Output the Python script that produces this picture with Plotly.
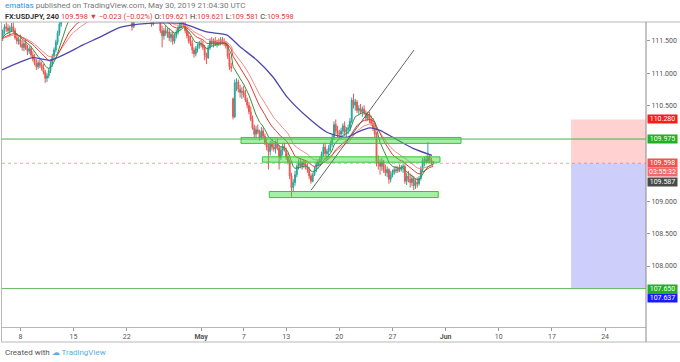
import plotly.graph_objects as go

# ---------------- data (4h bars, 6 per trading day) ----------------
trade_days = ["Apr 4", "Apr 5", "Apr 8", "Apr 9", "Apr 10", "Apr 11", "Apr 12", "Apr 15", "Apr 16",
              "Apr 17", "Apr 18", "Apr 19", "Apr 22", "Apr 23", "Apr 24", "Apr 25", "Apr 26", "Apr 29",
              "Apr 30", "May 1", "May 2", "May 3", "May 6", "May 7", "May 8", "May 9", "May 10",
              "May 13", "May 14", "May 15", "May 16", "May 17", "May 20", "May 21", "May 22",
              "May 23", "May 24", "May 27", "May 28", "May 29", "May 30"]

opens = [
    111.50, 111.52, 111.58, 111.66, 111.72, 111.70,
    111.66, 111.70, 111.72, 111.66, 111.55, 111.50,
    111.52, 111.45, 111.40, 111.46, 111.38, 111.34,
    111.38, 111.28, 111.22, 111.15, 111.10, 111.16,
    111.12, 111.08, 111.02, 110.92, 110.96, 111.04,
    111.14, 111.26, 111.36, 111.48, 111.62, 111.76,
    111.88, 111.94, 112.00, 111.98, 112.06, 112.00,
    112.02, 111.96, 112.00, 111.98, 111.92, 111.96,
    112.00, 112.04, 112.06, 112.00, 112.05, 112.08,
    112.04, 112.02, 111.98, 111.95, 112.02, 112.10,
    112.00, 111.92, 111.88, 111.95, 111.90, 111.94,
    111.96, 111.93, 111.94, 111.92, 111.93, 111.92,
    111.93, 111.90, 111.92, 111.86, 111.72, 111.86,
    111.92, 111.95, 112.00, 111.96, 111.94, 112.02,
    112.08, 112.14, 111.96, 111.76, 111.86, 111.92,
    111.88, 111.82, 111.66, 111.58, 111.66, 111.62,
    111.64, 111.55, 111.60, 111.50, 111.58, 111.64,
    111.70, 111.76, 111.80, 111.76, 111.66, 111.58,
    111.50, 111.46, 111.36, 111.30, 111.38, 111.42,
    111.46, 111.44, 111.40, 111.28, 111.24, 111.40,
    111.50, 111.46, 111.50, 111.45, 111.48, 111.46,
    111.52, 111.48, 111.46, 111.42, 111.26, 111.10,
    110.60, 110.32, 110.85, 110.86, 110.75, 110.70,
    110.72, 110.66, 110.58, 110.50, 110.40, 110.28,
    110.15, 110.05, 110.12, 110.08, 110.00, 110.10,
    110.02, 109.92, 109.85, 109.78, 109.90, 109.85,
    109.82, 109.90, 109.84, 109.70, 109.80, 109.86,
    109.80, 109.70, 109.62, 109.40, 109.22, 109.30,
    109.42, 109.55, 109.60, 109.56, 109.60, 109.58,
    109.55, 109.50, 109.40, 109.32, 109.42, 109.50,
    109.58, 109.62, 109.66, 109.74, 109.85, 109.75,
    109.78, 109.84, 109.90, 110.00, 110.20, 110.10,
    110.06, 110.05, 110.10, 110.18, 110.08, 110.12,
    110.15, 110.25, 110.58, 110.50, 110.55, 110.42,
    110.45, 110.40, 110.44, 110.38, 110.30, 110.36,
    110.28, 110.22, 110.15, 110.05, 109.62, 109.60,
    109.55, 109.62, 109.50, 109.45, 109.50, 109.35,
    109.42, 109.46, 109.50, 109.48, 109.52, 109.50,
    109.54, 109.55, 109.32, 109.40, 109.35, 109.30,
    109.36, 109.25, 109.30, 109.28, 109.36, 109.50,
    109.64, 109.66, 109.62, 109.70, 109.65, 109.621,
]
highs = [
    111.58, 111.62, 111.68, 111.76, 111.80, 111.76,
    111.74, 111.78, 111.79, 111.70, 111.62, 111.58,
    111.60, 111.52, 111.50, 111.52, 111.44, 111.42,
    111.42, 111.34, 111.30, 111.22, 111.20, 111.22,
    111.18, 111.14, 111.05, 111.00, 111.08, 111.18,
    111.30, 111.40, 111.52, 111.66, 111.80, 111.92,
    111.98, 112.04, 112.08, 112.10, 112.10, 112.06,
    112.08, 112.04, 112.06, 112.02, 112.00, 112.04,
    112.08, 112.12, 112.10, 112.08, 112.14, 112.12,
    112.10, 112.08, 112.04, 112.06, 112.17, 112.14,
    112.04, 111.98, 111.98, 112.00, 111.98, 112.00,
    111.99, 111.97, 111.98, 111.96, 111.96, 111.95,
    111.98, 111.96, 111.95, 111.90, 111.90, 111.96,
    112.00, 112.04, 112.06, 112.02, 112.06, 112.12,
    112.20, 112.18, 112.00, 111.90, 111.96, 111.98,
    111.94, 111.86, 111.74, 111.70, 111.74, 111.70,
    111.70, 111.64, 111.66, 111.62, 111.68, 111.74,
    111.80, 111.84, 111.86, 111.80, 111.72, 111.64,
    111.58, 111.52, 111.40, 111.42, 111.46, 111.50,
    111.52, 111.50, 111.44, 111.32, 111.44, 111.54,
    111.56, 111.54, 111.56, 111.52, 111.54, 111.56,
    111.56, 111.54, 111.50, 111.46, 111.32, 111.16,
    110.62, 110.90, 110.92, 110.90, 110.82, 110.78,
    110.80, 110.74, 110.62, 110.55, 110.48, 110.34,
    110.20, 110.18, 110.20, 110.12, 110.16, 110.15,
    110.06, 109.98, 109.90, 109.95, 109.98, 109.92,
    109.95, 109.98, 109.88, 109.85, 109.90, 109.92,
    109.84, 109.76, 109.66, 109.45, 109.35, 109.48,
    109.58, 109.66, 109.68, 109.64, 109.66, 109.64,
    109.60, 109.54, 109.44, 109.45, 109.55, 109.62,
    109.66, 109.70, 109.78, 109.90, 109.92, 109.82,
    109.88, 109.95, 110.05, 110.25, 110.28, 110.18,
    110.12, 110.15, 110.22, 110.25, 110.16, 110.20,
    110.30, 110.62, 110.68, 110.60, 110.58, 110.50,
    110.52, 110.48, 110.50, 110.42, 110.40, 110.40,
    110.34, 110.30, 110.22, 110.08, 109.72, 109.66,
    109.68, 109.65, 109.58, 109.55, 109.52, 109.48,
    109.50, 109.55, 109.56, 109.55, 109.58, 109.57,
    109.60, 109.58, 109.45, 109.48, 109.44, 109.42,
    109.40, 109.35, 109.38, 109.40, 109.55, 109.68,
    109.70, 109.72, 109.93, 109.74, 109.68, 109.621,
]
lows = [
    111.45, 111.48, 111.50, 111.60, 111.64, 111.62,
    111.58, 111.64, 111.62, 111.52, 111.45, 111.44,
    111.40, 111.35, 111.34, 111.36, 111.28, 111.30,
    111.25, 111.18, 111.12, 111.05, 111.06, 111.08,
    111.04, 110.98, 110.85, 110.86, 110.92, 111.00,
    111.10, 111.22, 111.32, 111.44, 111.58, 111.72,
    111.84, 111.90, 111.94, 111.95, 111.96, 111.95,
    111.92, 111.90, 111.94, 111.88, 111.86, 111.92,
    111.94, 111.98, 111.96, 111.95, 112.00, 112.00,
    111.98, 111.94, 111.90, 111.92, 112.00, 111.98,
    111.88, 111.84, 111.84, 111.86, 111.86, 111.90,
    111.90, 111.89, 111.90, 111.89, 111.90, 111.90,
    111.86, 111.84, 111.82, 111.66, 111.70, 111.82,
    111.86, 111.90, 111.92, 111.88, 111.90, 111.98,
    112.02, 111.92, 111.72, 111.74, 111.82, 111.84,
    111.78, 111.62, 111.40, 111.52, 111.58, 111.55,
    111.50, 111.48, 111.44, 111.46, 111.54, 111.60,
    111.66, 111.70, 111.72, 111.62, 111.54, 111.46,
    111.42, 111.30, 111.24, 111.26, 111.32, 111.38,
    111.40, 111.36, 111.20, 111.14, 111.22, 111.36,
    111.42, 111.40, 111.42, 111.40, 111.42, 111.43,
    111.44, 111.42, 111.38, 111.22, 111.05, 111.02,
    110.28, 110.30, 110.72, 110.70, 110.62, 110.60,
    110.62, 110.55, 110.45, 110.36, 110.25, 110.12,
    110.00, 110.00, 110.05, 109.95, 109.97, 109.98,
    109.88, 109.80, 109.50, 109.72, 109.80, 109.78,
    109.75, 109.80, 109.50, 109.65, 109.72, 109.78,
    109.65, 109.58, 109.35, 109.08, 109.15, 109.25,
    109.38, 109.50, 109.52, 109.50, 109.52, 109.50,
    109.45, 109.35, 109.28, 109.30, 109.40, 109.46,
    109.52, 109.56, 109.60, 109.70, 109.70, 109.65,
    109.70, 109.78, 109.86, 109.96, 110.05, 110.00,
    109.98, 109.98, 110.05, 110.02, 110.00, 110.05,
    110.10, 110.22, 110.45, 110.42, 110.38, 110.36,
    110.36, 110.32, 110.35, 110.25, 110.26, 110.22,
    110.18, 110.10, 110.00, 109.55, 109.50, 109.42,
    109.48, 109.45, 109.40, 109.38, 109.28, 109.30,
    109.38, 109.42, 109.44, 109.45, 109.46, 109.47,
    109.45, 109.28, 109.26, 109.30, 109.22, 109.24,
    109.18, 109.20, 109.22, 109.25, 109.33, 109.46,
    109.55, 109.58, 109.60, 109.60, 109.58, 109.581,
]
closes = [
    111.52, 111.58, 111.66, 111.72, 111.70, 111.66,
    111.70, 111.72, 111.66, 111.55, 111.50, 111.52,
    111.45, 111.40, 111.46, 111.38, 111.34, 111.38,
    111.28, 111.22, 111.15, 111.10, 111.16, 111.12,
    111.08, 111.02, 110.92, 110.96, 111.04, 111.14,
    111.26, 111.36, 111.48, 111.62, 111.76, 111.88,
    111.94, 112.00, 111.98, 112.06, 112.00, 112.02,
    111.96, 112.00, 111.98, 111.92, 111.96, 112.00,
    112.04, 112.06, 112.00, 112.05, 112.08, 112.04,
    112.02, 111.98, 111.95, 112.02, 112.10, 112.00,
    111.92, 111.88, 111.95, 111.90, 111.94, 111.96,
    111.93, 111.94, 111.92, 111.93, 111.92, 111.93,
    111.90, 111.92, 111.86, 111.72, 111.86, 111.92,
    111.95, 112.00, 111.96, 111.94, 112.02, 112.08,
    112.14, 111.96, 111.76, 111.86, 111.92, 111.88,
    111.82, 111.66, 111.58, 111.66, 111.62, 111.64,
    111.55, 111.60, 111.50, 111.58, 111.64, 111.70,
    111.76, 111.80, 111.76, 111.66, 111.58, 111.50,
    111.46, 111.36, 111.30, 111.38, 111.42, 111.46,
    111.44, 111.40, 111.28, 111.24, 111.40, 111.50,
    111.46, 111.50, 111.45, 111.48, 111.46, 111.52,
    111.48, 111.46, 111.42, 111.26, 111.10, 111.08,
    110.32, 110.85, 110.86, 110.75, 110.70, 110.72,
    110.66, 110.58, 110.50, 110.40, 110.28, 110.15,
    110.05, 110.12, 110.08, 110.00, 110.10, 110.02,
    109.92, 109.85, 109.78, 109.90, 109.85, 109.82,
    109.90, 109.84, 109.70, 109.80, 109.86, 109.80,
    109.70, 109.62, 109.40, 109.22, 109.30, 109.42,
    109.55, 109.60, 109.56, 109.60, 109.58, 109.55,
    109.50, 109.40, 109.32, 109.42, 109.50, 109.58,
    109.62, 109.66, 109.74, 109.85, 109.75, 109.78,
    109.84, 109.90, 110.00, 110.20, 110.10, 110.06,
    110.05, 110.10, 110.18, 110.08, 110.12, 110.15,
    110.25, 110.58, 110.50, 110.55, 110.42, 110.45,
    110.40, 110.44, 110.38, 110.30, 110.36, 110.28,
    110.22, 110.15, 110.05, 109.62, 109.60, 109.55,
    109.62, 109.50, 109.45, 109.50, 109.35, 109.42,
    109.46, 109.50, 109.48, 109.52, 109.50, 109.54,
    109.55, 109.32, 109.40, 109.35, 109.30, 109.36,
    109.25, 109.30, 109.28, 109.36, 109.50, 109.64,
    109.66, 109.62, 109.70, 109.65, 109.62, 109.598,
]

# long moving average (purple): trading-day index, price
slow_ma_day = [-1.73, -0.04, 1.19, 2.78, 4.38, 5.89, 7.49, 9.18, 10.59, 13.13, 15.30, 17.55,
               19.44, 20.66, 22.26, 23.76, 25.08, 26.96, 28.84, 30.72, 31.66, 32.89, 33.83,
               35.05, 36.93, 38.72]
slow_ma_val = [111.05, 111.17, 111.24, 111.20, 111.31, 111.44, 111.56, 111.70, 111.75, 111.78,
               111.77, 111.64, 111.59, 111.41, 111.20, 110.94, 110.63, 110.32, 110.08, 110.00,
               110.08, 110.15, 110.11, 110.00, 109.83, 109.72]

tick_days = [0, 5, 10, 17, 21, 25, 30, 35, 40, 45, 50, 55]
tick_text = ["8", "15", "22", "<b>May</b>", "7", "13", "20", "27", "<b>Jun</b>", "10", "17", "24"]
price_ticks = [108.0, 108.5, 109.0, 110.5, 111.0, 111.5]

last_price = 109.598
stop_price = 110.280
entry_price = 109.59
target_price = 107.650
level_line = 109.975

# ---------------- helpers ----------------
x_bar = [i - 2 + k / 6 for i in range(len(trade_days)) for k in range(6)]


def ema(vals, n):
    a = 2.0 / (n + 1)
    e = vals[0]
    out = []
    for v in vals:
        e = a * v + (1 - a) * e
        out.append(e)
    return out


X0, X1 = -1.731, 58.85
Y0, Y1 = 107.052, 111.795

fig = go.Figure()
fig.add_trace(go.Candlestick(
    x=x_bar, open=opens, high=highs, low=lows, close=closes,
    increasing=dict(line=dict(color="#26a69a", width=1), fillcolor="#26a69a"),
    decreasing=dict(line=dict(color="#ef5350", width=1), fillcolor="#ef5350"),
    whiskerwidth=0, hoverinfo="skip"))

fig.add_trace(go.Scatter(x=x_bar, y=ema(closes, 26), mode="lines",
                         line=dict(color="#f28b82", width=1), hoverinfo="skip"))
fig.add_trace(go.Scatter(x=x_bar, y=ema(closes, 18), mode="lines",
                         line=dict(color="#e53935", width=1), hoverinfo="skip"))
fig.add_trace(go.Scatter(x=x_bar, y=ema(closes, 9), mode="lines",
                         line=dict(color="#388e3c", width=1), hoverinfo="skip"))
fig.add_trace(go.Scatter(x=slow_ma_day, y=slow_ma_val, mode="lines",
                         line=dict(color="#5046ad", width=1.3, shape="spline", smoothing=0.6),
                         hoverinfo="skip"))

shapes = []
# position tool
shapes.append(dict(type="rect", xref="x", yref="y", x0=51.8, x1=X1, y0=entry_price, y1=stop_price,
                   fillcolor="rgba(255,90,90,0.28)", line=dict(width=0), layer="below"))
shapes.append(dict(type="rect", xref="x", yref="y", x0=51.8, x1=X1, y0=target_price, y1=entry_price,
                   fillcolor="rgba(80,80,240,0.28)", line=dict(width=0), layer="below"))
# horizontal levels
shapes.append(dict(type="line", xref="x", yref="y", x0=X0, x1=X1, y0=level_line, y1=level_line,
                   line=dict(color="#4caf50", width=1)))
shapes.append(dict(type="line", xref="x", yref="y", x0=X0, x1=X1, y0=target_price, y1=target_price,
                   line=dict(color="#66bb6a", width=1)))
shapes.append(dict(type="line", xref="x", yref="y", x0=X0, x1=X1, y0=last_price, y1=last_price,
                   line=dict(color="rgba(239,83,80,0.55)", width=1, dash="dot")))
# zones
for zx0, zx1, zy0, zy1 in [(20.75, 41.45, 109.907, 110.0),
                           (22.76, 39.47, 109.615, 109.698),
                           (23.41, 39.31, 109.065, 109.159)]:
    shapes.append(dict(type="rect", xref="x", yref="y", x0=zx0, x1=zx1, y0=zy0, y1=zy1,
                       fillcolor="rgba(60,220,60,0.45)", line=dict(color="#3cc43c", width=1),
                       layer="above"))
# trend line
shapes.append(dict(type="line", xref="x", yref="y", x0=27.34, y0=109.179, x1=37.03, y1=111.36,
                   line=dict(color="#666666", width=1)))


def px(p):
    return (p - 2) / 644.0


def py(p):
    return (327 - p) / 305.0


# frame
shapes.append(dict(type="line", xref="paper", yref="paper", x0=px(0), x1=px(680), y0=py(22), y1=py(22),
                   line=dict(color="#b8b8b8", width=1)))
shapes.append(dict(type="line", xref="paper", yref="paper", x0=px(1), x1=px(680), y0=py(342), y1=py(342),
                   line=dict(color="#b8b8b8", width=1)))
shapes.append(dict(type="line", xref="paper", yref="paper", x0=1, x1=1, y0=py(22), y1=py(342),
                   line=dict(color="#8a8a8a", width=1)))
shapes.append(dict(type="line", xref="paper", yref="paper", x0=px(1.5), x1=px(1.5), y0=py(22), y1=py(342),
                   line=dict(color="#b8b8b8", width=1)))

ann = []


def label(y, text, bg, shift=0):
    ann.append(dict(xref="paper", yref="y", x=1, y=y, xanchor="left", yanchor="middle", xshift=1,
                    yshift=shift, text=text, showarrow=False, bgcolor=bg, width=29, height=8,
                    borderpad=0, align="center",
                    font=dict(size=7, color="white", family="Roboto")))


label(stop_price, "110.280", "#ff1a1a")
label(level_line, "109.975", "#21b021")
label(last_price, "109.598", "#ef5350")
label(last_price, "03:55:32", "#f06a6a", shift=-9.2)
label(last_price, "109.587", "#4a4a4a", shift=-18.5)
label(target_price, "107.650", "#21b021")
label(target_price, "107.637", "#1a1aff", shift=-9.2)

FONT = "Roboto"
ann.append(dict(xref="paper", yref="paper", x=px(3), y=py(6), xanchor="left", yanchor="middle",
                showarrow=False, font=dict(size=8, color="#777", family=FONT),
                text="<span style='color:#2196f3'>ematias</span> published on TradingView.com, May 30, 2019 21:04:30 UTC"))
ann.append(dict(xref="paper", yref="paper", x=px(3), y=py(16), xanchor="left", yanchor="middle",
                showarrow=False, font=dict(size=7.4, color="#333", family=FONT),
                text="<b>FX:USDJPY, 240</b> <span style='color:#e53935'>109.598 ▼ −0.023 (−0.02%)</span> "
                     "O:<span style='color:#e53935'>109.621</span> H:<span style='color:#e53935'>109.621</span> "
                     "L:<span style='color:#e53935'>109.581</span> C:<span style='color:#e53935'>109.598</span>"))
ann.append(dict(xref="paper", yref="paper", x=px(3), y=py(352), xanchor="left", yanchor="middle",
                showarrow=False, font=dict(size=8, color="#555", family=FONT),
                text="Created with <span style='color:#5aaee8'>☁ TradingView</span>"))

fig.update_layout(
    width=680, height=362, margin=dict(l=2, r=34, t=22, b=35),
    paper_bgcolor="white", plot_bgcolor="white", showlegend=False,
    shapes=shapes, annotations=ann,
    xaxis=dict(range=[X0, X1], tickvals=tick_days, ticktext=tick_text, showgrid=False, zeroline=False,
               showline=True, linecolor="#b8b8b8", mirror=False, ticks="outside", ticklen=3,
               tickcolor="#999", tickfont=dict(size=7, color="#555", family=FONT),
               rangeslider=dict(visible=False), fixedrange=True),
    yaxis=dict(side="right", range=[Y0, Y1], tickvals=price_ticks,
               ticktext=["%.3f" % v for v in price_ticks], showgrid=False, zeroline=False,
               showline=False, ticks="outside", ticklen=3, tickcolor="#999",
               tickfont=dict(size=7, color="#555", family=FONT), fixedrange=True),
)

fig.write_html("out.html", config={"displayModeBar": False},
               post_script="document.body.style.margin='0';document.body.style.padding='0';"
                           "document.body.style.overflow='hidden';")
